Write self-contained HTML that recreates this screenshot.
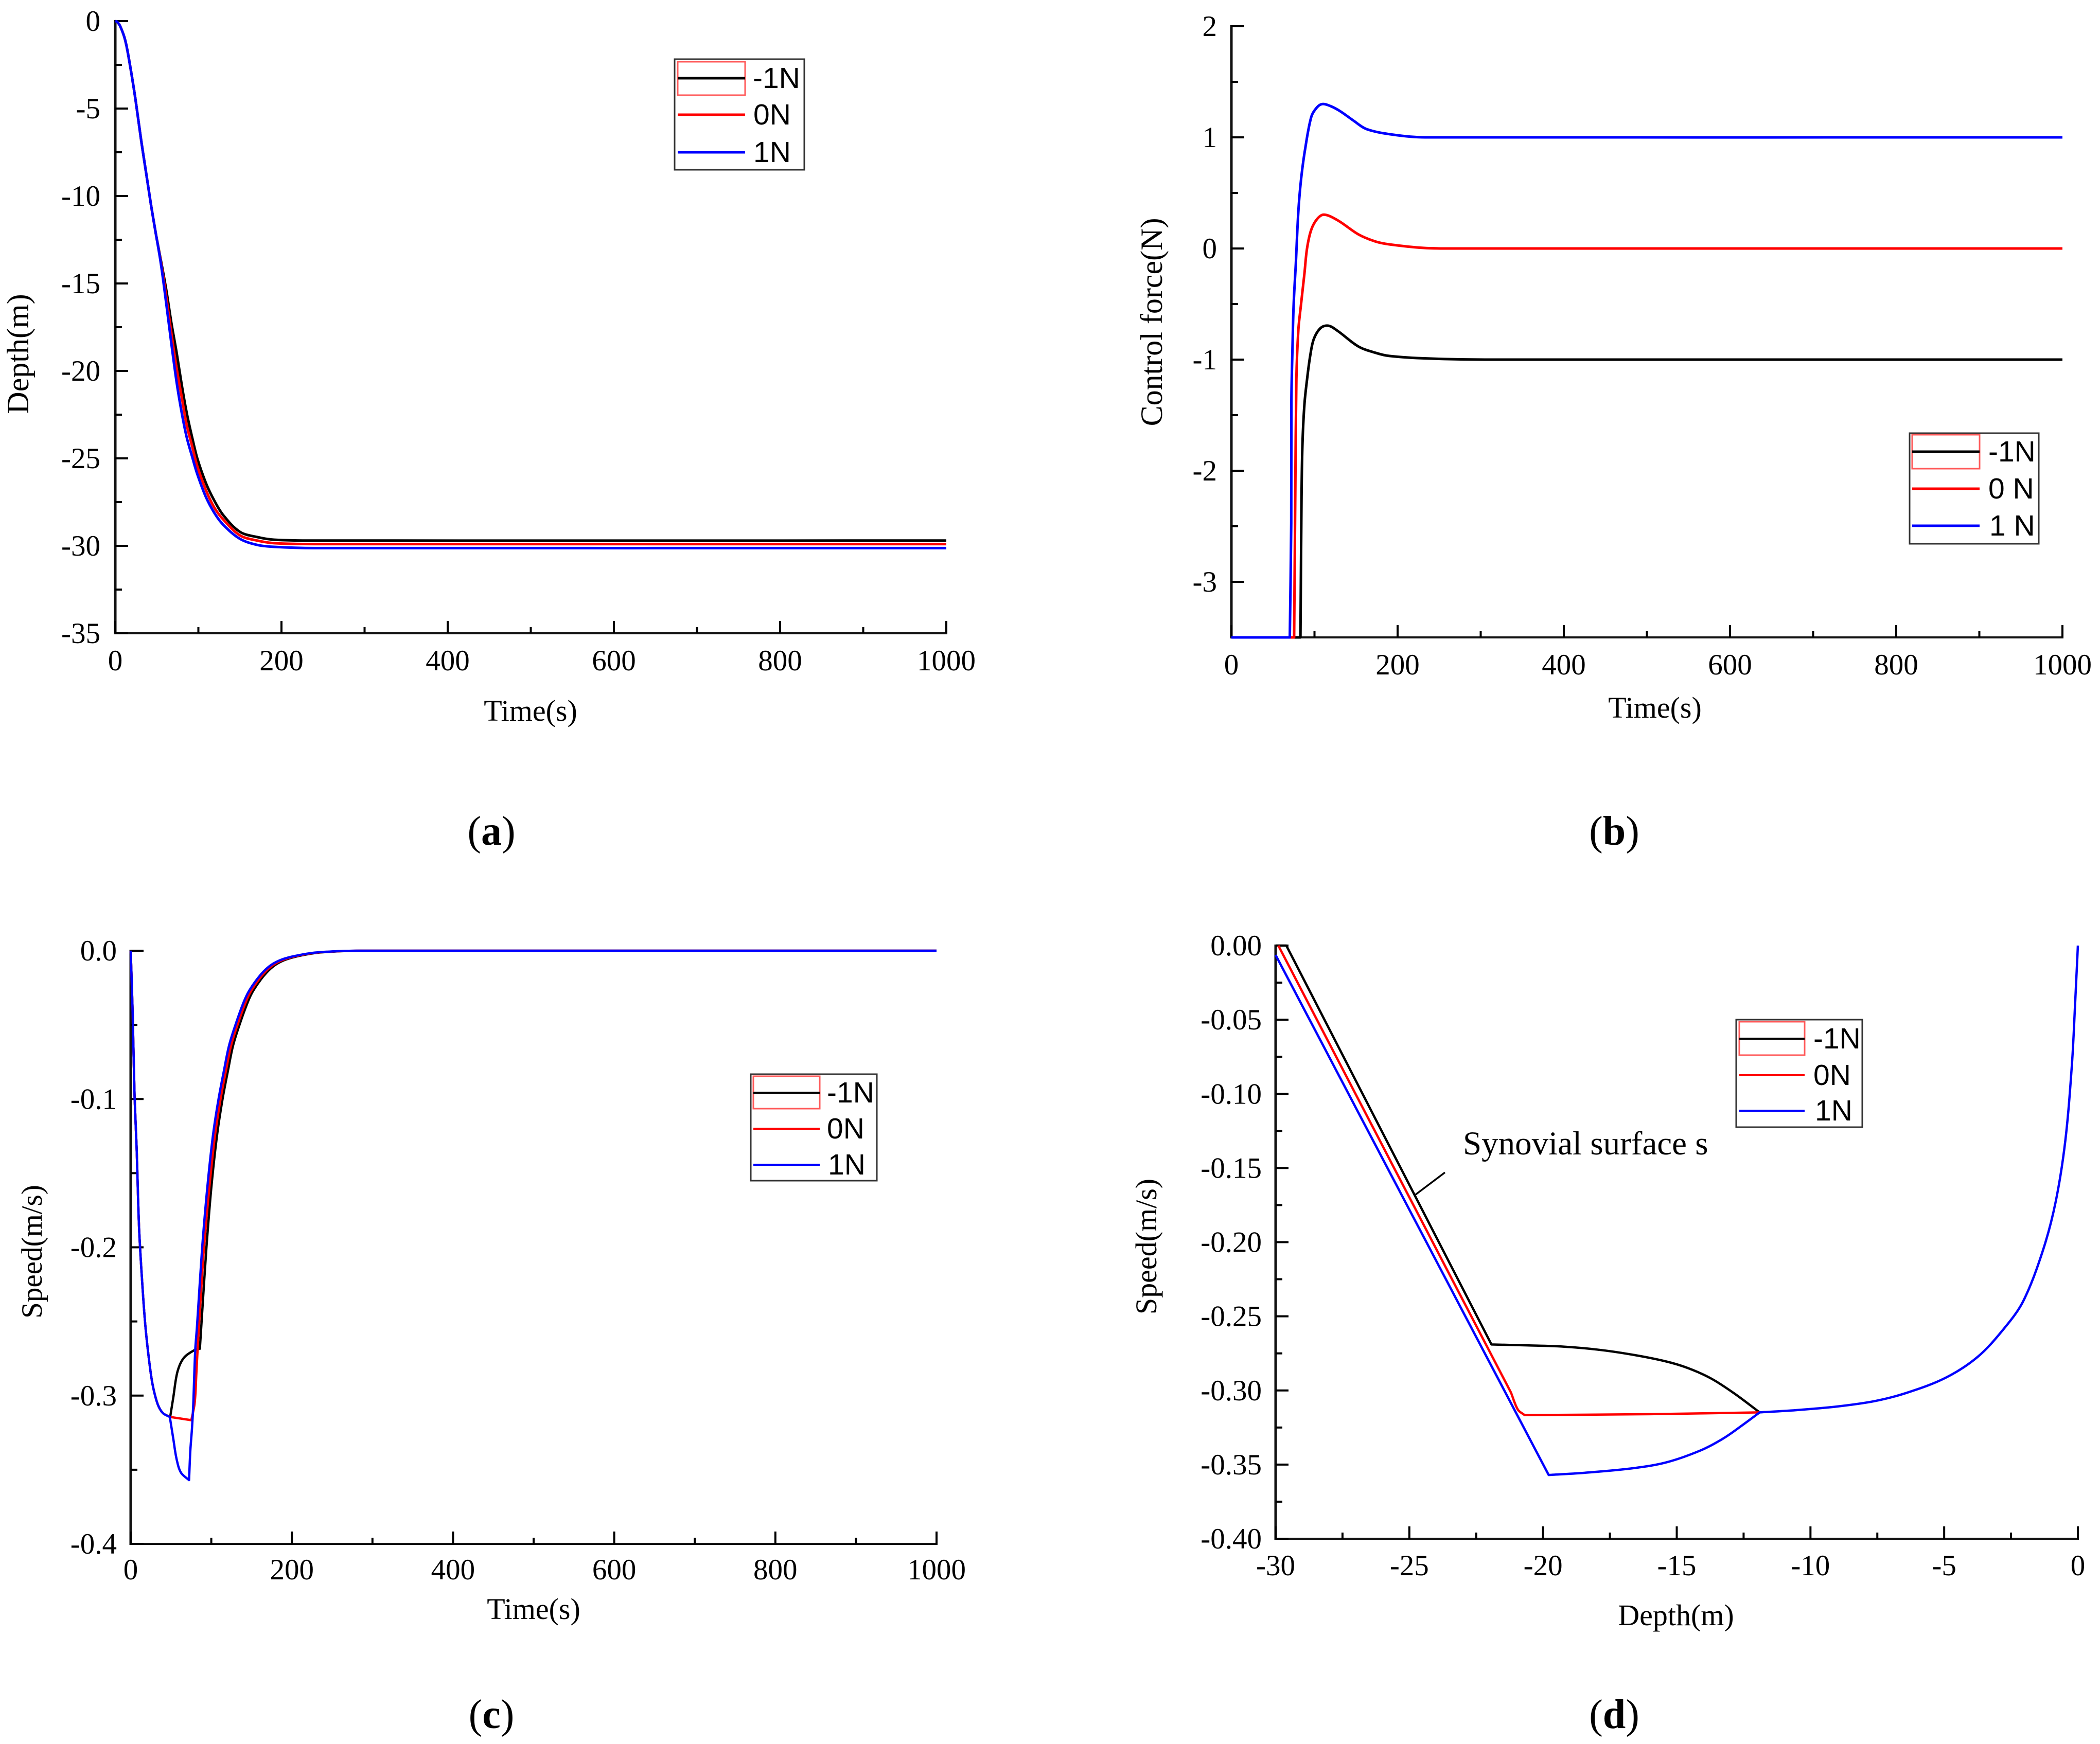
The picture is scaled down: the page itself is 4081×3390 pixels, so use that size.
<!DOCTYPE html>
<html lang="en">
<head>
<meta charset="utf-8">
<title>Depth, control force and speed response charts</title>
<style>
html,body{margin:0;padding:0;background:#fff;}
svg{display:block;}
text{fill:#000;}
.serif{font-family:"Liberation Serif",serif;}
.sans{font-family:"Liberation Sans",sans-serif;}
</style>
</head>
<body>
<svg id="figure" xmlns="http://www.w3.org/2000/svg" width="4081" height="3390" viewBox="0 0 4081 3390"></svg>
<script>
// ---------- Panel (a): depth vs time ----------
const aXTickLabels = ['0','200','400','600','800','1000'];
const aYTickLabels = ['0','-5','-10','-15','-20','-25','-30','-35'];
const aLegendLabels = ['-1N','0N','1N'];
const aTimeBlue = [0,2,5.8,12,18,24.4,30.5,36.7,43,49,55,61.5,67.7,74,80,86,92.5,98.7,109,119,130,150,171,191.5,240,1000];
const aDepthBlue = [0,-0.03,-0.28,-1.1,-2.6,-4.5,-6.6,-8.55,-10.5,-12.2,-13.9,-16.2,-18.5,-20.7,-22.4,-23.8,-24.9,-25.9,-27.2,-28.1,-28.8,-29.6,-29.95,-30.06,-30.13,-30.13];
const aTimeRed = [0,2,5.8,12,18,24.4,30.5,36.7,43,49,55,61.5,67.7,74,80,86,92.5,98.7,109,119,130,150,171,191.5,240,1000];
const aDepthRed = [0,-0.03,-0.28,-1.1,-2.6,-4.5,-6.6,-8.55,-10.5,-12.2,-13.8,-15.8,-17.9,-19.9,-21.5,-23.1,-24.3,-25.45,-26.8,-27.8,-28.5,-29.4,-29.7,-29.85,-29.9,-29.9];
const aTimeBlack = [0,2,5.8,12,18,24.4,30.5,36.7,43,49,55,61.5,67.7,74,80,86,92.5,98.7,109,119,130,150,171,191.5,240,1000];
const aDepthBlack = [0,-0.03,-0.28,-1.1,-2.6,-4.5,-6.6,-8.55,-10.5,-12.2,-13.7,-15.4,-17.3,-19,-20.8,-22.4,-23.8,-25,-26.4,-27.4,-28.25,-29.2,-29.5,-29.65,-29.7,-29.7];

// ---------- Panel (b): control force vs time ----------
const bXTickLabels = ['0','200','400','600','800','1000'];
const bYTickLabels = ['2','1','0','-1','-2','-3'];
const bLegendLabels = ['-1N','0 N','1 N'];
const bTimeBlack = [0,83.1,84.4,85.5,87.9,91,95.1,99.3,107.5,116.7,128.1,152.8,173.5,190,236,314,1000];
const bForceBlack = [-3.5,-3.5,-2.24,-1.766,-1.4,-1.18,-0.953,-0.812,-0.715,-0.695,-0.743,-0.882,-0.939,-0.967,-0.99,-1,-1];
const bTimeRed = [0,75.5,76.9,78.2,80.6,83.8,87.9,91,96.1,103.4,111.6,128.1,152.8,173.5,190,231,265,1000];
const bForceRed = [-3.5,-3.5,-2.19,-1.178,-0.729,-0.504,-0.224,0,0.169,0.267,0.304,0.253,0.127,0.0625,0.037,0.005,0,0];
const bTimeBlue = [0,70.3,72,72.2,73.5,74.9,77.5,80.6,83.8,88.5,96.1,103,109.6,119.7,131.2,147,162.8,193.8,233,1000];
const bForceBlue = [-3.5,-3.5,-2.47,-1.374,-0.897,-0.504,-0.139,0.3375,0.618,0.883,1.184,1.27,1.3,1.28,1.234,1.15,1.074,1.025,1,1];

// ---------- Panel (c): speed vs time ----------
const cXTickLabels = ['0','200','400','600','800','1000'];
const cYTickLabels = ['0.0','-0.1','-0.2','-0.3','-0.4'];
const cLegendLabels = ['-1N','0N','1N'];
const cTimeBlack = [0,2.4,4.8,7.3,10.5,15.4,18.7,23,27.3,33.6,40,49,52.8,58,65.6,78.3,85.8,90,94,100,107,114,121,127,135,145,152,165,177,190,205,230,255,285,1000];
const cSpeedBlack = [0,-0.042,-0.098,-0.132,-0.188,-0.233,-0.256,-0.277,-0.293,-0.306,-0.3118,-0.3144,-0.3014,-0.284,-0.2748,-0.2696,-0.2684,-0.233,-0.2,-0.16,-0.125,-0.1,-0.08,-0.064,-0.05,-0.035,-0.027,-0.017,-0.0105,-0.0065,-0.004,-0.0015,-0.0005,0,0];
const cTimeRed = [0,2.4,4.8,7.3,10.5,15.4,18.7,23,27.3,33.6,40,49,75.2,79.4,81.5,83.7,87,91,97.5,104.5,111.5,118.5,124.5,132.5,142.5,149.5,162.5,174.5,187.5,202.5,227.5,252.5,282,1000];
const cSpeedRed = [0,-0.042,-0.098,-0.132,-0.188,-0.233,-0.256,-0.277,-0.293,-0.306,-0.3118,-0.3144,-0.3166,-0.305,-0.285,-0.262,-0.233,-0.2,-0.16,-0.125,-0.1,-0.08,-0.064,-0.05,-0.035,-0.027,-0.017,-0.0105,-0.0065,-0.004,-0.0015,-0.0005,0,0];
const cTimeBlue = [0,2.4,4.8,7.3,10.5,15.4,18.7,23,27.3,33.6,40,48.5,52.8,57,62.4,72.4,74,76.2,77.7,80,82.2,84.7,88.7,95,102,109,116,122,130,140,147,160,172,185,200,225,250,280,1000];
const cSpeedBlue = [0,-0.042,-0.098,-0.132,-0.188,-0.233,-0.256,-0.277,-0.293,-0.306,-0.3118,-0.3144,-0.329,-0.343,-0.352,-0.357,-0.337,-0.321,-0.305,-0.27,-0.2539,-0.233,-0.2,-0.16,-0.125,-0.1,-0.08,-0.064,-0.05,-0.035,-0.027,-0.017,-0.0105,-0.0065,-0.004,-0.0015,-0.0005,0,0];

// ---------- Panel (d): speed vs depth (phase plane) ----------
const dXTickLabels = ['-30','-25','-20','-15','-10','-5','0'];
const dYTickLabels = ['0.00','-0.05','-0.10','-0.15','-0.20','-0.25','-0.30','-0.35','-0.40'];
const dLegendLabels = ['-1N','0N','1N'];
const dDepthBlack = [-30,-29.6,-21.93,-20.6,-19.3,-18,-16.72,-15.43,-14.57,-13.71,-12.85,-11.9];
const dSpeedBlack = [0,0,-0.269,-0.2696,-0.2704,-0.2724,-0.2757,-0.2803,-0.285,-0.292,-0.302,-0.3148];
const dDepthRed = [-29.9,-21.2,-20.94,-20.69,-16,-11.9];
const dSpeedRed = [0,-0.3014,-0.313,-0.3166,-0.316,-0.3148];
const dDepthBlue = [-30,-19.79,-18.42,-16.7,-15.41,-14.13,-13.27,-12.59,-11.9,-10.55,-9.09,-7.63,-6.42,-4.96,-3.75,-2.78,-2.05,-1.32,-0.83,-0.47,-0.22,-0.1,-0.03,0];
const dSpeedBlue = [-0.0064,-0.357,-0.3555,-0.3526,-0.3486,-0.3406,-0.3325,-0.324,-0.3148,-0.3133,-0.311,-0.3073,-0.3017,-0.2916,-0.2774,-0.2587,-0.24,-0.2063,-0.1727,-0.1316,-0.0793,-0.038,-0.012,0];

const NS = 'http://www.w3.org/2000/svg';
const fig = document.getElementById('figure');

function make(parent, tag, attrs, content) {
  const el = document.createElementNS(NS, tag);
  for (const k in attrs) el.setAttribute(k, attrs[k]);
  if (content !== undefined) el.textContent = content;
  parent.appendChild(el);
  return el;
}

function unit(a, b) {
  const dx = b[0] - a[0], dy = b[1] - a[1];
  const len = Math.hypot(dx, dy) || 1;
  return [dx / len, dy / len];
}

// Smooth path through the points; indexes listed in corners stay sharp.
function seriesPath(pts, corners) {
  const last = pts.length - 1;
  const sharp = i => i === 0 || i === last || corners.includes(i);
  let d = 'M' + pts[0][0].toFixed(1) + ' ' + pts[0][1].toFixed(1);
  for (let i = 0; i < last; i++) {
    const p = pts[i], q = pts[i + 1];
    const chord = Math.hypot(q[0] - p[0], q[1] - p[1]);
    const handle = Math.min(chord / 3, 60);
    const t0 = sharp(i) ? unit(p, q) : unit(pts[i - 1], q);
    const t1 = sharp(i + 1) ? unit(p, q) : unit(p, pts[i + 2]);
    d += 'C' + (p[0] + t0[0] * handle).toFixed(1) + ' ' + (p[1] + t0[1] * handle).toFixed(1) +
         ' ' + (q[0] - t1[0] * handle).toFixed(1) + ' ' + (q[1] - t1[1] * handle).toFixed(1) +
         ' ' + q[0].toFixed(1) + ' ' + q[1].toFixed(1);
  }
  return d;
}

function drawPanel(p) {
  const g = make(fig, 'g', {});
  
  

  const xOf = v => p.x0 + (v - p.xMin) / (p.xMax - p.xMin) * (p.x1 - p.x0);
  const yOf = v => p.y0 + (p.yMax - v) / (p.yMax - p.yMin) * (p.y1 - p.y0);

  // axes lines
  const yAxis = make(g, 'line', {x1: p.x0, y1: p.y0 - 2, x2: p.x0, y2: p.y1 + 2, stroke: '#111', 'stroke-width': 5});
  
  
  const xAxis = make(g, 'line', {x1: p.x0 - 2, y1: p.y1, x2: p.x1 + 2, y2: p.y1, stroke: '#111', 'stroke-width': 4});
  
  

  // x ticks
  const xStep = Number(p.xTickLabels[1]) - Number(p.xTickLabels[0]);
  p.xTickLabels.forEach((label, i) => {
    const v = Number(label);
    const px = xOf(v);
    const tick = make(g, 'line', {x1: px, y1: p.y1, x2: px, y2: p.y1 - 24, stroke: '#000', 'stroke-width': 4});
    
    
    const txt = make(g, 'text', {x: px, y: p.xLabelY + 19, 'text-anchor': 'middle', 'font-size': 57, class: 'serif'}, label);
    
    
    if (i < p.xTickLabels.length - 1) {
      const mx = xOf(v + xStep / 2);
      const minor = make(g, 'line', {x1: mx, y1: p.y1, x2: mx, y2: p.y1 - 12, stroke: '#000', 'stroke-width': 4});
      
      
    }
  });

  // y ticks
  const yStep = Number(p.yTickLabels[0]) - Number(p.yTickLabels[1]);
  p.yTickLabels.forEach(label => {
    const v = Number(label);
    const py = yOf(v);
    const tick = make(g, 'line', {x1: p.x0, y1: py, x2: p.x0 + 25, y2: py, stroke: '#000', 'stroke-width': 4});
    
    
    const txt = make(g, 'text', {x: p.yLabelRight, y: py + 19, 'text-anchor': 'end', 'font-size': 57, class: 'serif'}, label);
    
    
    if (v - yStep / 2 >= p.yMin - 1e-9) {
      const my = yOf(v - yStep / 2);
      const minor = make(g, 'line', {x1: p.x0, y1: my, x2: p.x0 + 13, y2: my, stroke: '#000', 'stroke-width': 4});
      
      
    }
  });

  // axis titles
  const xTitle = make(g, 'text', {x: p.xTitleX, y: p.xTitleY + 17, 'text-anchor': 'middle', 'font-size': p.xTitleSize, class: 'serif'}, p.xTitle);
  
  
  const yTitle = make(g, 'text', {'text-anchor': 'middle', 'font-size': p.yTitleSize, class: 'serif',
    transform: 'translate(' + (p.yTitleX + 17) + ',' + p.yTitleY + ') rotate(-90)'}, p.yTitle);
  
  

  // series
  p.series.forEach(s => {
    const pts = s.xs.map((v, i) => [xOf(v), yOf(s.ys[i])]);
    const path = make(g, 'path', {d: seriesPath(pts, s.corners), fill: 'none', stroke: s.color, 'stroke-width': p.lineWidth, 'stroke-linejoin': 'round'});
    
    
  });

  // legend
  const L = p.legend;
  const lg = make(g, 'g', {});
  
  
  const box = make(lg, 'rect', {x: L.x, y: L.y, width: L.w, height: L.h, fill: '#fff', stroke: '#333', 'stroke-width': 3});
  
  
  const sel = make(lg, 'rect', {x: L.sx0, y: L.sy0, width: L.sx1 - L.sx0, height: L.sy1 - L.sy0, fill: 'none', stroke: '#ff5a5a', 'stroke-width': 3});
  
  
  p.legendLabels.forEach((label, i) => {
    const s = p.series[i];
    const ln = make(lg, 'line', {x1: L.sx0, y1: L.lineY[i], x2: L.sx1, y2: L.lineY[i], stroke: s.color, 'stroke-width': p.legendLineWidth});
    
    
    const t = make(lg, 'text', {x: L.textX[i], y: L.lineY[i] + 19, 'font-size': 57, class: 'sans'}, label);
    
    
  });

  // caption
  const cap = make(g, 'text', {x: p.capX, y: p.capY, 'text-anchor': 'middle', 'font-size': 80, class: 'serif'});
  
  
  make(cap, 'tspan', {}, '(');
  make(cap, 'tspan', {'font-weight': 'bold'}, p.id);
  make(cap, 'tspan', {}, ')');
}

drawPanel({
  id: 'a', x0: 224, x1: 1839, y0: 41, y1: 1231, xMin: 0, xMax: 1000, yMin: -35, yMax: 0,
  xTickLabels: aXTickLabels, yTickLabels: aYTickLabels, legendLabels: aLegendLabels,
  xLabelY: 1284, yLabelRight: 195, xTitle: 'Time(s)', yTitle: 'Depth(m)',
  xTitleSize: 58, yTitleSize: 60,
  xTitleX: 1031, xTitleY: 1384, yTitleX: 38, yTitleY: 688, lineWidth: 5, legendLineWidth: 5,
  capX: 955, capY: 1642,
  series: [
    {name: 'minus-1n', color: '#000', xs: aTimeBlack, ys: aDepthBlack, corners: []},
    {name: '0n', color: '#f00', xs: aTimeRed, ys: aDepthRed, corners: []},
    {name: '1n', color: '#00f', xs: aTimeBlue, ys: aDepthBlue, corners: []}
  ],
  legend: {x: 1311, y: 115, w: 252, h: 215, sx0: 1317, sx1: 1448, sy0: 120, sy1: 185,
    lineY: [152, 223, 296], textX: [1463, 1464, 1464]}
});

drawPanel({
  id: 'b', x0: 2393, x1: 4008, y0: 51, y1: 1239, xMin: 0, xMax: 1000, yMin: -3.5, yMax: 2,
  xTickLabels: bXTickLabels, yTickLabels: bYTickLabels, legendLabels: bLegendLabels,
  xLabelY: 1292, yLabelRight: 2365, xTitle: 'Time(s)', yTitle: 'Control force(N)',
  xTitleSize: 58, yTitleSize: 60,
  xTitleX: 3216, xTitleY: 1378, yTitleX: 2241, yTitleY: 626, lineWidth: 5, legendLineWidth: 5,
  capX: 3137, capY: 1642,
  series: [
    {name: 'minus-1n', color: '#000', xs: bTimeBlack, ys: bForceBlack, corners: [1]},
    {name: '0n', color: '#f00', xs: bTimeRed, ys: bForceRed, corners: [1]},
    {name: '1n', color: '#00f', xs: bTimeBlue, ys: bForceBlue, corners: [1]}
  ],
  legend: {x: 3711, y: 842, w: 251, h: 215, sx0: 3716, sx1: 3847, sy0: 845, sy1: 911,
    lineY: [878, 950, 1022], textX: [3864, 3864, 3866]}
});

drawPanel({
  id: 'c', x0: 254, x1: 1820, y0: 1848, y1: 3001, xMin: 0, xMax: 1000, yMin: -0.4, yMax: 0,
  xTickLabels: cXTickLabels, yTickLabels: cYTickLabels, legendLabels: cLegendLabels,
  xLabelY: 3051, yLabelRight: 227, xTitle: 'Time(s)', yTitle: 'Speed(m/s)',
  xTitleSize: 58, yTitleSize: 57,
  xTitleX: 1037, xTitleY: 3130, yTitleX: 64, yTitleY: 2433, lineWidth: 4.5, legendLineWidth: 4,
  capX: 955, capY: 3359,
  series: [
    {name: 'minus-1n', color: '#000', xs: cTimeBlack, ys: cSpeedBlack, corners: [11, 16]},
    {name: '0n', color: '#f00', xs: cTimeRed, ys: cSpeedRed, corners: [11, 12]},
    {name: '1n', color: '#00f', xs: cTimeBlue, ys: cSpeedBlue, corners: [11, 15]}
  ],
  legend: {x: 1459, y: 2088, w: 245, h: 207, sx0: 1464, sx1: 1593, sy0: 2092, sy1: 2155,
    lineY: [2124, 2194, 2264], textX: [1607, 1607, 1609]}
});

drawPanel({
  id: 'd', x0: 2479, x1: 4038, y0: 1838, y1: 2991, xMin: -30, xMax: 0, yMin: -0.4, yMax: 0,
  xTickLabels: dXTickLabels, yTickLabels: dYTickLabels, legendLabels: dLegendLabels,
  xLabelY: 3043, yLabelRight: 2452, xTitle: 'Depth(m)', yTitle: 'Speed(m/s)',
  xTitleSize: 58, yTitleSize: 58,
  xTitleX: 3257, xTitleY: 3142, yTitleX: 2230, yTitleY: 2423, lineWidth: 4.5, legendLineWidth: 4,
  capX: 3137, capY: 3359,
  series: [
    {name: 'minus-1n', color: '#000', xs: dDepthBlack, ys: dSpeedBlack, corners: [1, 2]},
    {name: '0n', color: '#f00', xs: dDepthRed, ys: dSpeedRed, corners: [1, 3]},
    {name: '1n', color: '#00f', xs: dDepthBlue, ys: dSpeedBlue, corners: [1, 8]}
  ],
  legend: {x: 3374, y: 1982, w: 245, h: 209, sx0: 3380, sx1: 3507, sy0: 1986, sy1: 2051,
    lineY: [2019, 2090, 2159], textX: [3524, 3524, 3527]}
});

// annotation in panel (d)
const annotationText = make(fig, 'text', {x: 2843, y: 2244, 'font-size': 65, class: 'serif'}, 'Synovial surface s');


const annotationLeader = make(fig, 'line', {x1: 2808, y1: 2279, x2: 2751, y2: 2322, stroke: '#000', 'stroke-width': 3.5});


</script>
</body>
</html>
